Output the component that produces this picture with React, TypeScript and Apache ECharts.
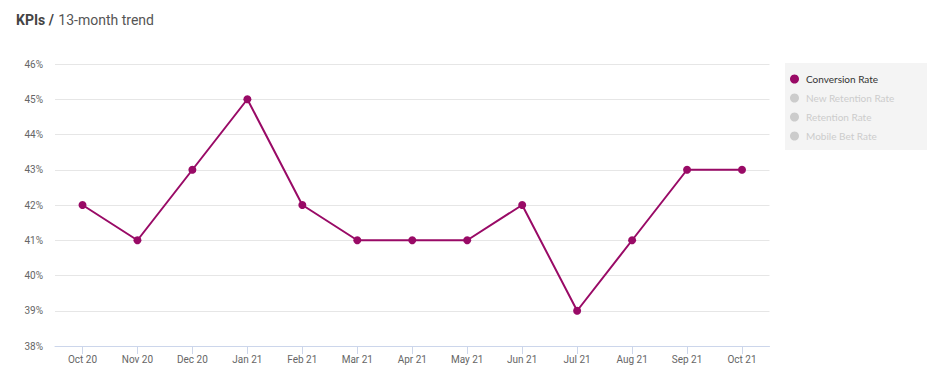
import React, { useEffect, useRef } from "react";
import * as echarts from "echarts";

const months = ["Oct 20", "Nov 20", "Dec 20", "Jan 21", "Feb 21", "Mar 21", "Apr 21", "May 21", "Jun 21", "Jul 21", "Aug 21", "Sep 21", "Oct 21"];
const conversionRate = [42, 41, 43, 45, 42, 41, 41, 41, 42, 39, 41, 43, 43];
const seriesNames = ["Conversion Rate", "New Retention Rate", "Retention Rate", "Mobile Bet Rate"];
const yMin = 38;
const yMax = 46;

export default function App() {
  const ref = useRef<HTMLDivElement>(null);
  useEffect(() => {
    if (!ref.current) return;
    const chart = echarts.init(ref.current, undefined, { renderer: "svg" });
    const color = "#990a66";
    chart.setOption({
      animation: false,
      textStyle: { fontFamily: "Roboto" },
      title: {
        text: "{b|KPIs /} {r|13-month trend}",
        left: 11,
        top: 6,
        textStyle: {
          rich: {
            b: { fontFamily: "Roboto", fontWeight: "bold", fontSize: 14, color: "#444" },
            r: { fontFamily: "Roboto", fontWeight: "normal", fontSize: 14, color: "#555" },
          },
        },
      },
      graphic: [
        { type: "rect", shape: { x: 785, y: 63, width: 142, height: 87 }, style: { fill: "#f4f4f4" }, silent: true, z: -1 },
      ],
      legend: {
        orient: "vertical",
        left: 790,
        top: 73,
        padding: 0,
        itemGap: 7,
        itemWidth: 9,
        itemHeight: 9,
        icon: "circle",
        data: seriesNames,
        selected: {
          "Conversion Rate": true,
          "New Retention Rate": false,
          "Retention Rate": false,
          "Mobile Bet Rate": false,
        },
        inactiveColor: "#cccccc",
        textStyle: { fontFamily: "Lato", fontSize: 10, color: "#333", lineHeight: 12, padding: [0, 0, 0, 2] },
      },
      grid: { left: 55, right: 167.5, top: 64, bottom: 33 },
      xAxis: {
        type: "category",
        data: months,
        boundaryGap: true,
        axisLine: { lineStyle: { color: "#ccd6eb", width: 1 } },
        axisTick: { show: true, alignWithLabel: true, length: 8, lineStyle: { color: "#ccd6eb" } },
        axisLabel: { color: "#666", fontSize: 10, margin: 8 },
      },
      yAxis: {
        type: "value",
        min: yMin,
        max: yMax,
        interval: 1,
        axisLine: { show: false },
        axisTick: { show: false },
        splitLine: { lineStyle: { color: "#e6e6e6" } },
        axisLabel: { color: "#666", fontSize: 10, margin: 12, formatter: "{value}%" },
      },
      series: [
        {
          name: "Conversion Rate",
          type: "line",
          data: conversionRate,
          color,
          lineStyle: { color, width: 2 },
          itemStyle: { color },
          symbol: "circle",
          symbolSize: 8,
        },
        { name: "New Retention Rate", type: "line", data: [], color: "#7cb5ec" },
        { name: "Retention Rate", type: "line", data: [], color: "#434348" },
        { name: "Mobile Bet Rate", type: "line", data: [], color: "#90ed7d" },
      ],
    });
    return () => chart.dispose();
  }, []);
  return <div ref={ref} style={{ width: 937, height: 379, position: "absolute", left: 0, top: 0 }} />;
}
